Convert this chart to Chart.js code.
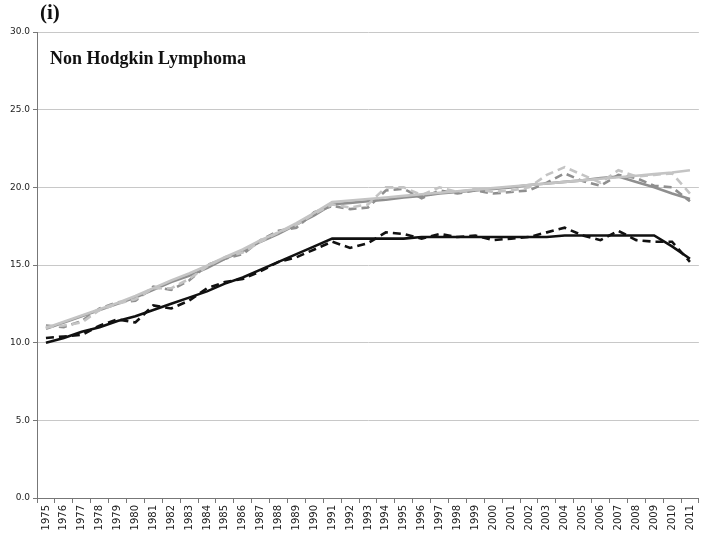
<!DOCTYPE html>
<html>
<head>
<meta charset="utf-8">
<script src="https://cdn.jsdelivr.net/npm/chart.js@4"></script>
<style>
  html, body { margin: 0; padding: 0; background: #fff; }
  #wrap { width: 704px; height: 533px; position: relative; }
</style>
</head>
<body>
<div id="wrap"><canvas id="chart"></canvas></div>
<script>
// 연도 (카테고리)
const years = [];
for (let y = 1975; y <= 2011; y++) years.push(String(y));

// y축 눈금
const yTicks = [0, 5, 10, 15, 20, 25, 30];

const blackFit = [10.0, 10.3, 10.7, 11.0, 11.4, 11.7, 12.1, 12.5, 12.9, 13.3, 13.8, 14.2, 14.7, 15.2, 15.7, 16.2, 16.7,
  16.7, 16.7, 16.7, 16.7, 16.8, 16.8, 16.8, 16.8, 16.8, 16.8, 16.8, 16.8, 16.9, 16.9, 16.9, 16.9, 16.9, 16.9, 16.2, 15.4];
const blackObs = [10.3, 10.4, 10.5, 11.1, 11.5, 11.3, 12.4, 12.2, 12.7, 13.5, 13.9, 14.1, 14.6, 15.2, 15.5, 16.0, 16.5,
  16.1, 16.4, 17.1, 17.0, 16.7, 17.0, 16.8, 16.9, 16.6, 16.7, 16.8, 17.1, 17.4, 16.9, 16.6, 17.2, 16.6, 16.5, 16.5, 15.2];
const darkFit = [10.9, 11.3, 11.7, 12.1, 12.5, 12.9, 13.4, 13.9, 14.3, 14.8, 15.4, 15.9, 16.5, 17.0, 17.6, 18.2, 18.9,
  19.0, 19.1, 19.2, 19.35, 19.45, 19.6, 19.7, 19.8, 19.9, 20.0, 20.15, 20.25, 20.35, 20.45, 20.6, 20.7, 20.35, 20.0, 19.6, 19.25];
const darkObs = [11.1, 11.0, 11.4, 12.2, 12.6, 12.7, 13.6, 13.4, 14.0, 15.0, 15.4, 15.7, 16.6, 17.2, 17.4, 18.4, 18.8,
  18.6, 18.7, 19.8, 19.9, 19.3, 19.8, 19.6, 19.8, 19.6, 19.7, 19.8, 20.3, 20.9, 20.4, 20.1, 20.8, 20.6, 20.1, 20.0, 19.1];
const lightFit = [10.95, 11.35, 11.75, 12.15, 12.55, 13.0, 13.5, 14.0, 14.45, 14.95, 15.5, 16.0, 16.6, 17.1, 17.7, 18.35, 19.05,
  19.15, 19.25, 19.35, 19.45, 19.55, 19.65, 19.75, 19.85, 19.95, 20.05, 20.15, 20.25, 20.35, 20.45, 20.55, 20.65, 20.75, 20.85, 20.95, 21.1];
const lightObs = [11.0, 11.1, 11.3, 12.1, 12.5, 12.8, 13.5, 13.5, 14.1, 14.9, 15.5, 15.8, 16.5, 17.1, 17.6, 18.3, 18.9,
  18.7, 18.9, 20.0, 20.0, 19.5, 20.0, 19.7, 19.9, 19.7, 19.8, 20.0, 20.8, 21.3, 20.8, 20.3, 21.1, 20.7, 20.8, 20.9, 19.6];

const BLACK = '#111111';
const DARK = '#8f8f8f';
const LIGHT = '#c4c4c4';
const DASH = [8, 5];

function line(label, data, color, dashed) {
  return {
    label, data,
    borderColor: color,
    borderWidth: 2.6,
    borderDash: dashed ? DASH : [],
    pointRadius: 0,
    tension: 0,
    fill: false
  };
}

// 제목 텍스트 플러그인
const titlePlugin = {
  id: 'panelTitle',
  afterDraw(chart) {
    const ctx = chart.ctx;
    ctx.save();
    ctx.fillStyle = '#111';
    ctx.textAlign = 'left';
    ctx.textBaseline = 'alphabetic';
    ctx.font = 'bold 21px "Liberation Serif", "Times New Roman", serif';
    ctx.fillText('(i)', 40, 19);
    ctx.font = 'bold 18px "Liberation Serif", "Times New Roman", serif';
    ctx.fillText('Non Hodgkin Lymphoma', 50, 64);
    ctx.restore();
  }
};

new Chart(document.getElementById('chart'), {
  type: 'line',
  data: {
    labels: years,
    datasets: [
      line('Light observed', lightObs, LIGHT, true),
      line('Light fitted', lightFit, LIGHT, false),
      line('Dark observed', darkObs, DARK, true),
      line('Dark fitted', darkFit, DARK, false),
      line('Black observed', blackObs, BLACK, true),
      line('Black fitted', blackFit, BLACK, false)
    ]
  },
  plugins: [titlePlugin],
  options: {
    responsive: true,
    maintainAspectRatio: false,
    animation: false,
    layout: { padding: { top: 32, right: 4, left: 0, bottom: 0 } },
    plugins: {
      legend: { display: false },
      tooltip: { enabled: false }
    },
    scales: {
      x: {
        offset: true,
        afterFit(scale) { scale.height = 35; },
        grid: {
          offset: true,
          drawOnChartArea: false,
          drawTicks: true,
          tickLength: 5,
          color: '#777'
        },
        border: { color: '#777', width: 1 },
        ticks: {
          autoSkip: false,
          maxRotation: 90,
          minRotation: 90,
          padding: 2,
          color: '#222',
          font: { family: '"DejaVu Sans", Verdana, sans-serif', size: 10 }
        }
      },
      y: {
        min: 0,
        max: 30,
        afterFit(scale) { scale.width = 37; },
        afterBuildTicks(scale) { scale.ticks = yTicks.map(v => ({ value: v })); },
        grid: {
          color: '#c8c8c8',
          lineWidth: 1,
          drawTicks: true,
          tickLength: 4,
          tickColor: '#777'
        },
        border: { color: '#777', width: 1 },
        ticks: {
          padding: 3,
          color: '#222',
          font: { family: '"DejaVu Sans", Verdana, sans-serif', size: 9 },
          callback: v => Number(v).toFixed(1)
        }
      }
    }
  }
});
</script>
</body>
</html>
